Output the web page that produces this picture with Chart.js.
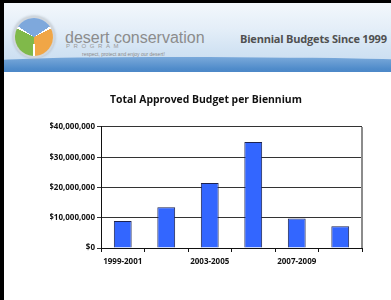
<!DOCTYPE html>
<html lang="en">
<head>
<meta charset="UTF-8">
<title>Biennial Budgets Since 1999</title>
<script src="https://cdn.jsdelivr.net/npm/chart.js"></script>
<style>
    html, body {
        margin: 0;
        padding: 0;
        background: #fff;
    }
    .page {
        position: relative;
        width: 391px;
        height: 300px;
        overflow: hidden;
        background: #fff;
    }
    .header {
        position: absolute;
        left: 0;
        top: 0;
        width: 391px;
        height: 72px;
        background: linear-gradient(180deg, #f4f8fc 0%, #e4eef8 40%, #d2e3f3 70%, #c4dbf0 100%);
        overflow: hidden;
    }
    .band {
        position: absolute;
        left: -40px;
        top: 57px;
        width: 480px;
        height: 40px;
        border-radius: 40% 60% 0 0 / 8px 5px 0 0;
        background: linear-gradient(180deg, #7aa9da 0%, #4f8bca 30%, #3a76b9 100%);
    }
    .logo {
        position: absolute;
        left: 15px;
        top: 18px;
        width: 38px;
        height: 38px;
        border-radius: 50%;
        background: conic-gradient(#ffffff 0deg 4deg, #f0a646 4deg 116deg, #ffffff 116deg 124deg, #80b94a 124deg 236deg, #ffffff 236deg 244deg, #7ea8dc 244deg 356deg, #ffffff 356deg 360deg);
        transform: rotate(60deg);
        box-shadow: 0 0 0 2px #d0d6dc, 0 0 2px 3px rgba(160,170,180,0.4);
    }
    .brand {
        position: absolute;
        left: 65px;
        top: 29px;
        font-family: "Liberation Sans", Arial, sans-serif;
        font-size: 16px;
        color: #8c8c8c;
        white-space: nowrap;
    }
    .program {
        position: absolute;
        left: 66px;
        top: 43px;
        font-family: "Liberation Sans", Arial, sans-serif;
        font-size: 6px;
        color: #9a9a9a;
        letter-spacing: 3.6px;
    }
    .motto {
        position: absolute;
        left: 82px;
        top: 51px;
        font-family: "Liberation Sans", Arial, sans-serif;
        font-size: 5px;
        color: #8a8a8a;
        white-space: nowrap;
    }
    .heading {
        position: absolute;
        left: 240px;
        top: 31px;
        font-family: "Open Sans", sans-serif;
        font-weight: bold;
        font-size: 11px;
        letter-spacing: -0.2px;
        color: #505050;
        white-space: nowrap;
    }
    .frame-left {
        position: absolute;
        left: 0;
        top: 0;
        width: 4px;
        height: 300px;
        background: #000;
        z-index: 3;
    }
    .frame-top {
        position: absolute;
        left: 0;
        top: 0;
        width: 391px;
        height: 3px;
        background: #000;
        z-index: 3;
    }
    .chart-box {
        position: absolute;
        left: 0;
        top: 0;
        width: 391px;
        height: 300px;
        z-index: 2;
    }
</style>
</head>
<body>
<div class="page">
    <div class="header">
        <div class="band"></div>
        <div class="logo"></div>
        <div class="brand">desert conservation</div>
        <div class="program">PROGRAM</div>
        <div class="motto">respect, protect and enjoy our desert!</div>
        <div class="heading">Biennial Budgets Since 1999</div>
    </div>
    <div class="chart-box">
        <canvas id="budgetChart" width="391" height="300"></canvas>
    </div>
    <div class="frame-left"></div>
    <div class="frame-top"></div>
</div>

<script>
// data
const bienniums = ['1999-2001', '2001-2003', '2003-2005', '2005-2007', '2007-2009', '2009-2011'];
const approvedBudget = [8900000, 13500000, 21500000, 35000000, 9750000, 7200000];
const yTicks = [0, 10000000, 20000000, 30000000, 40000000];

const fmtMoney = v => '$' + v.toLocaleString('en-US');

// grey edge on the right side of the plot
const rightEdge = {
    id: 'rightEdge',
    afterDraw(chart) {
        const a = chart.chartArea;
        const ctx = chart.ctx;
        ctx.save();
        ctx.strokeStyle = '#8c8c8c';
        ctx.lineWidth = 2;
        ctx.beginPath();
        ctx.moveTo(a.right, a.top);
        ctx.lineTo(a.right, a.bottom);
        ctx.stroke();
        ctx.restore();
    }
};

new Chart(document.getElementById('budgetChart'), {
    type: 'bar',
    data: {
        labels: bienniums,
        datasets: [{
            data: approvedBudget,
            backgroundColor: '#3366ff',
            borderColor: '#1c2250',
            borderWidth: 1,
            barPercentage: 0.41,
            categoryPercentage: 1
        }]
    },
    options: {
        responsive: false,
        animation: false,
        // left padding shifts the title centre; the y axis keeps the plot at x=101
        layout: { padding: { left: 50, right: 29, top: 0, bottom: 0 } },
        plugins: {
            legend: { display: false },
            tooltip: { enabled: false },
            title: {
                display: true,
                text: 'Total Approved Budget per Biennium',
                color: '#111',
                font: { family: 'Open Sans', size: 10.4, weight: 'bold' },
                padding: { top: 94, bottom: 20.5 }
            }
        },
        scales: {
            x: {
                grid: {
                    offset: true,
                    drawOnChartArea: false,
                    drawTicks: true,
                    tickLength: 4,
                    color: '#111'
                },
                border: { color: '#111', width: 1 },
                ticks: {
                    autoSkip: false,
                    maxRotation: 0,
                    padding: 5,
                    color: '#111',
                    font: { family: 'Open Sans', size: 8, weight: 'bold' },
                    callback: (v, i) => i % 2 === 0 ? bienniums[i] : ''
                },
                afterFit: s => { s.height = 52; }
            },
            y: {
                min: 0,
                max: 40000000,
                afterBuildTicks: s => { s.ticks = yTicks.map(v => ({ value: v })); },
                grid: {
                    color: '#333',
                    tickLength: 4,
                    drawTicks: true
                },
                border: { color: '#111', width: 1 },
                ticks: {
                    padding: 2,
                    color: '#111',
                    font: { family: 'Open Sans', size: 8, weight: 'bold' },
                    callback: v => fmtMoney(v)
                },
                afterFit: s => { s.width = 51; }
            }
        }
    },
    plugins: [rightEdge]
});
</script>
</body>
</html>
